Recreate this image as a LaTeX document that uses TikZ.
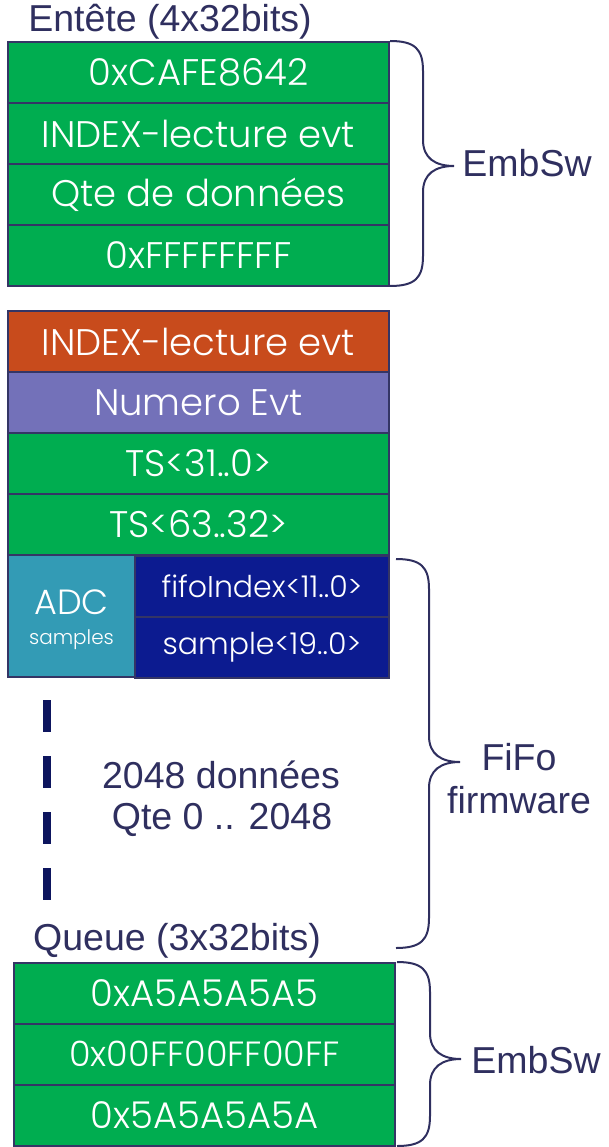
\documentclass[tikz,border=0pt]{standalone}
\usepackage{fontspec}
\setmainfont{Liberation Sans}
\IfFontExistsTF{Poppins Light}{\newfontfamily\boxfont{Poppins Light}}{\newfontfamily\boxfont{Poppins}}
\definecolor{cgreen}{HTML}{00AD50}
\definecolor{corange}{HTML}{C84B1C}
\definecolor{cpurple}{HTML}{7371B9}
\definecolor{cteal}{HTML}{339BB5}
\definecolor{cnavy}{HTML}{0C1B90}
\definecolor{cborder}{HTML}{343565}
\definecolor{ctext}{HTML}{2F2F5F}
\definecolor{cdash}{HTML}{0D155E}
\newcommand\curlybrace[4]{% x0, ytop, ytip, ybottom
  \draw[bracestroke] (#1,#2) .. controls ({#1+25},#2) and ({#1+33},{#2+8}) .. ({#1+33},{#2+30})
    -- ({#1+33},{#3-26}) .. controls ({#1+33},{#3-8}) and ({#1+45},#3) .. ({#1+64},#3)
    .. controls ({#1+45},#3) and ({#1+33},{#3+8}) .. ({#1+33},{#3+26})
    -- ({#1+33},{#4-30}) .. controls ({#1+33},{#4-8}) and ({#1+25},#4) .. (#1,#4);}
\begin{document}
\begin{tikzpicture}[x=1pt,y=-1pt,
  cell/.style={draw=cborder, line width=2pt, text=white, inner sep=0pt,
    minimum width=381pt, minimum height=61pt, font=\boxfont\fontsize{37}{40}\selectfont},
  outtext/.style={text=ctext, inner sep=0pt, font=\fontsize{37.5}{43}\selectfont, align=center},
  bracestroke/.style={draw=ctext, line width=2pt}]
\useasboundingbox (0,0) rectangle (609,1147);
% header
\node[outtext] (entete) at (170,22) {Entête (4x32bits)};
\node[cell, fill=cgreen] (h1) at (198.5,72.5) {0xCAFE8642};
\node[cell, fill=cgreen] (h2) at (198.5,133.5) {INDEX-lecture evt};
\node[cell, fill=cgreen] (h3) at (198.5,194.5) {Qte de données};
\node[cell, fill=cgreen] (h4) at (198.5,255.5) {0xFFFFFFFF};
\curlybrace{390}{41}{166}{286}
\node[outtext] (emb1) at (527,163) {EmbSw};
% event block
\node[cell, fill=corange] (e1) at (198.5,341.5) {INDEX-lecture evt};
\node[cell, fill=cpurple] (e2) at (198.5,402.5) {Numero Evt};
\node[cell, fill=cgreen] (e3) at (198.5,463.5) {TS<31..0>};
\node[cell, fill=cgreen] (e4) at (198.5,524.5) {TS<63..32>};
\node[cell, fill=cteal, minimum width=127pt, minimum height=122pt, align=center,
  font=\boxfont\fontsize{35}{38}\selectfont] (adc) at (71.5,616) {};
\node[text=white, inner sep=0pt, align=center, font=\boxfont\fontsize{35}{38}\selectfont] (adct) at (71.5,620)
  {ADC\\[-8pt]{\fontsize{20}{22}\selectfont samples}};
\node[cell, fill=cnavy, minimum width=254pt, font=\boxfont\fontsize{30}{33}\selectfont] (fifo) at (262,586.5) {fifoIndex<11..0>};
\node[cell, fill=cnavy, minimum width=254pt, font=\boxfont\fontsize{30}{33}\selectfont] (samp) at (262,647.5) {sample<19..0>};
% dashes
\coordinate (d1) at (47,700);
\coordinate (d2) at (47,900);
\draw[cdash, line width=8pt, dash pattern=on 32pt off 24pt] (d1) -- (d2);
\node[outtext] (n2048) at (221,775) {2048 données};
\node[outtext] (qte) at (222,820) {Qte 0 .. 2048};
\curlybrace{396}{559}{762}{948}
\node[outtext] (fifofw) at (519,779) {FiFo\\firmware};
% queue
\node[outtext] (queue) at (177,941) {Queue (3x32bits)};
\node[cell, fill=cgreen, minimum width=381pt, font=\boxfont\fontsize{37}{40}\selectfont] (q1) at (204.5,993) {0xA5A5A5A5};
\node[cell, fill=cgreen, minimum width=381pt, font=\boxfont\fontsize{35}{38}\selectfont] (q2) at (204.5,1054) {0x00FF00FF00FF};
\node[cell, fill=cgreen, minimum width=381pt, font=\boxfont\fontsize{37}{40}\selectfont] (q3) at (204.5,1115) {0x5A5A5A5A};
\curlybrace{397}{962}{1059}{1146}
\node[outtext] (emb2) at (536,1060) {EmbSw};
\end{tikzpicture}
\end{document}
